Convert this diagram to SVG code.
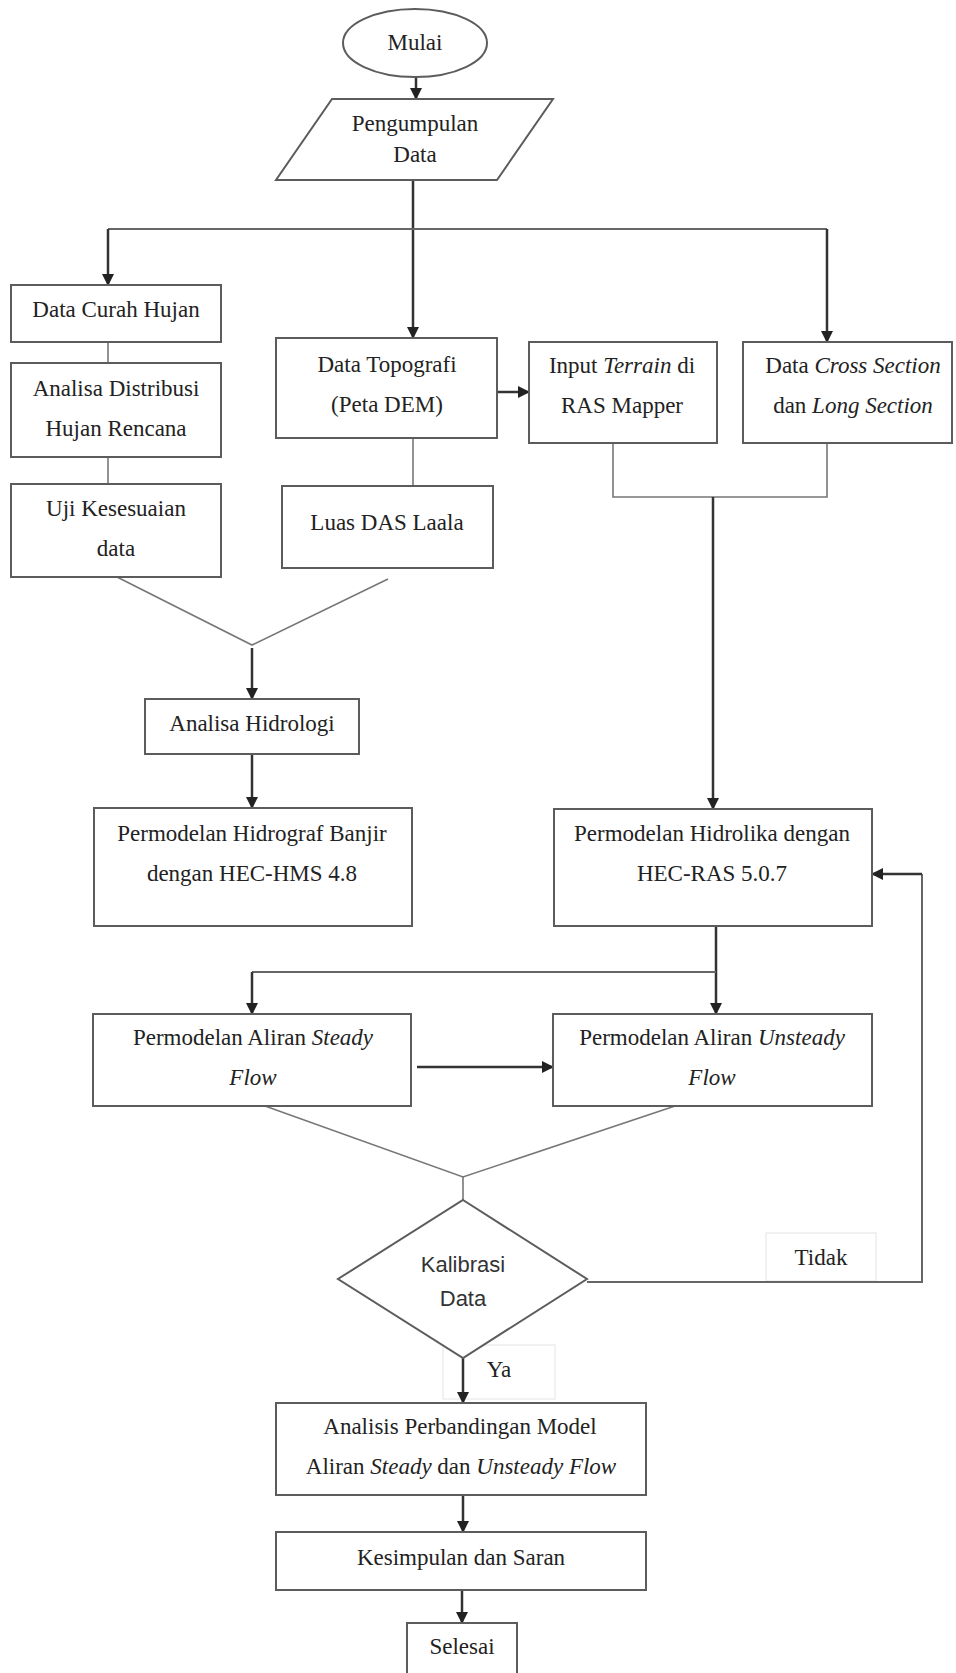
<svg xmlns="http://www.w3.org/2000/svg" width="956" height="1673" viewBox="0 0 956 1673">
<defs>
<marker id="ah" markerUnits="userSpaceOnUse" markerWidth="12" markerHeight="12" viewBox="0 0 12 12" refX="11" refY="6" orient="auto">
<path d="M0,0 L12,6 L0,12 z" fill="#222"/>
</marker>
<style>
.box{fill:#fff;stroke:#5c5c5c;stroke-width:2}
.t{font-family:"Liberation Serif","Times New Roman",serif;font-size:23px;fill:#222;text-anchor:middle}
.s{font-family:"Liberation Sans",Arial,sans-serif;font-size:22px;fill:#333;text-anchor:middle}
.i{font-style:italic}
.arr{fill:none;stroke:#333;stroke-width:2.5;marker-end:url(#ah)}
.thick{fill:none;stroke:#333;stroke-width:2.5}
.thin{fill:none;stroke:#777;stroke-width:1.6}
.mid{fill:none;stroke:#666;stroke-width:2}
.lbl{fill:#fff;stroke:#e4e4e4;stroke-width:1}
</style>
</defs>
<rect width="956" height="1673" fill="#fff"/>

<g id="labels">
<g id="label-tidak"><rect class="lbl" x="766" y="1233" width="110" height="48"/><text class="t" x="821" y="1265">Tidak</text></g>
<g id="label-ya"><rect class="lbl" x="443" y="1345" width="112" height="54"/><text class="t" x="499" y="1377">Ya</text></g>
</g>

<g id="connectors">
<path class="arr" d="M416,77 V99"/>
<path class="arr" d="M413,180 V338"/>
<path class="mid" d="M108,229 H827"/>
<path class="arr" d="M108,229 V285"/>
<path class="arr" d="M827,229 V342"/>
<path class="thin" d="M108,342 V363"/>
<path class="thin" d="M108,457 V484"/>
<path class="thin" d="M413,438 V486"/>
<path class="arr" d="M497,392 H529"/>
<path class="thin" d="M613,443 V497 H827 V443"/>
<path class="arr" d="M713,497 V809"/>
<path class="thin" d="M117,577 L252,645 L388,579"/>
<path class="arr" d="M252,648 V699"/>
<path class="arr" d="M252,754 V808"/>
<path class="arr" d="M716,926 V1014"/>
<path class="mid" d="M252,972 H716"/>
<path class="arr" d="M252,972 V1014"/>
<path class="arr" d="M417,1067 H553"/>
<path class="thin" d="M265,1106 L463,1177 L675,1106"/>
<path class="thin" d="M463,1177 V1200"/>
<path class="mid" d="M587,1282 H922 V874"/>
<path class="arr" d="M922,874 H872"/>
<path class="arr" d="M463,1358 V1403"/>
<path class="arr" d="M463,1495 V1532"/>
<path class="arr" d="M462,1590 V1623"/>
</g>

<g id="n-mulai"><ellipse class="box" cx="415" cy="43" rx="72" ry="34"/><text class="t" x="415" y="50">Mulai</text></g>
<g id="n-pengumpulan"><path class="box" d="M332,99 H553 L497,180 H276 Z"/><text class="t" x="415" y="131">Pengumpulan</text><text class="t" x="415" y="162">Data</text></g>
<g id="n-curah"><rect class="box" x="11" y="285" width="210" height="57"/><text class="t" x="116" y="317">Data Curah Hujan</text></g>
<g id="n-distribusi"><rect class="box" x="11" y="363" width="210" height="94"/><text class="t" x="116" y="396">Analisa Distribusi</text><text class="t" x="116" y="436">Hujan Rencana</text></g>
<g id="n-uji"><rect class="box" x="11" y="484" width="210" height="93"/><text class="t" x="116" y="516">Uji Kesesuaian</text><text class="t" x="116" y="556">data</text></g>
<g id="n-topografi"><rect class="box" x="276" y="338" width="221" height="100"/><text class="t" x="387" y="372">Data Topografi</text><text class="t" x="387" y="412">(Peta DEM)</text></g>
<g id="n-luas"><rect class="box" x="282" y="486" width="211" height="82"/><text class="t" x="387" y="530">Luas DAS Laala</text></g>
<g id="n-terrain"><rect class="box" x="529" y="342" width="188" height="101"/><text class="t" x="622" y="373">Input <tspan class="i">Terrain</tspan> di</text><text class="t" x="622" y="413">RAS Mapper</text></g>
<g id="n-cross"><rect class="box" x="743" y="342" width="209" height="101"/><text class="t" x="853" y="373">Data <tspan class="i">Cross Section</tspan></text><text class="t" x="853" y="413">dan <tspan class="i">Long Section</tspan></text></g>
<g id="n-hidrologi"><rect class="box" x="145" y="699" width="214" height="55"/><text class="t" x="252" y="731">Analisa Hidrologi</text></g>
<g id="n-hms"><rect class="box" x="94" y="808" width="318" height="118"/><text class="t" x="252" y="841">Permodelan Hidrograf Banjir</text><text class="t" x="252" y="881">dengan HEC-HMS 4.8</text></g>
<g id="n-ras"><rect class="box" x="554" y="809" width="318" height="117"/><text class="t" x="712" y="841">Permodelan Hidrolika dengan</text><text class="t" x="712" y="881">HEC-RAS 5.0.7</text></g>
<g id="n-steady"><rect class="box" x="93" y="1014" width="318" height="92"/><text class="t" x="253" y="1045">Permodelan Aliran <tspan class="i">Steady</tspan></text><text class="t i" x="253" y="1085">Flow</text></g>
<g id="n-unsteady"><rect class="box" x="553" y="1014" width="319" height="92"/><text class="t" x="712" y="1045">Permodelan Aliran <tspan class="i">Unsteady</tspan></text><text class="t i" x="712" y="1085">Flow</text></g>
<g id="n-kalibrasi"><path class="box" d="M463,1200 L587,1279 L463,1358 L338,1279 Z"/><text class="s" x="463" y="1272">Kalibrasi</text><text class="s" x="463" y="1306">Data</text></g>
<g id="n-analisis"><rect class="box" x="276" y="1403" width="370" height="92"/><text class="t" x="460" y="1434">Analisis Perbandingan Model</text><text class="t" x="461" y="1474">Aliran <tspan class="i">Steady</tspan> dan <tspan class="i">Unsteady Flow</tspan></text></g>
<g id="n-kesimpulan"><rect class="box" x="276" y="1532" width="370" height="58"/><text class="t" x="461" y="1565">Kesimpulan dan Saran</text></g>
<g id="n-selesai"><rect class="box" x="407" y="1623" width="110" height="54"/><text class="t" x="462" y="1654">Selesai</text></g>
</svg>
